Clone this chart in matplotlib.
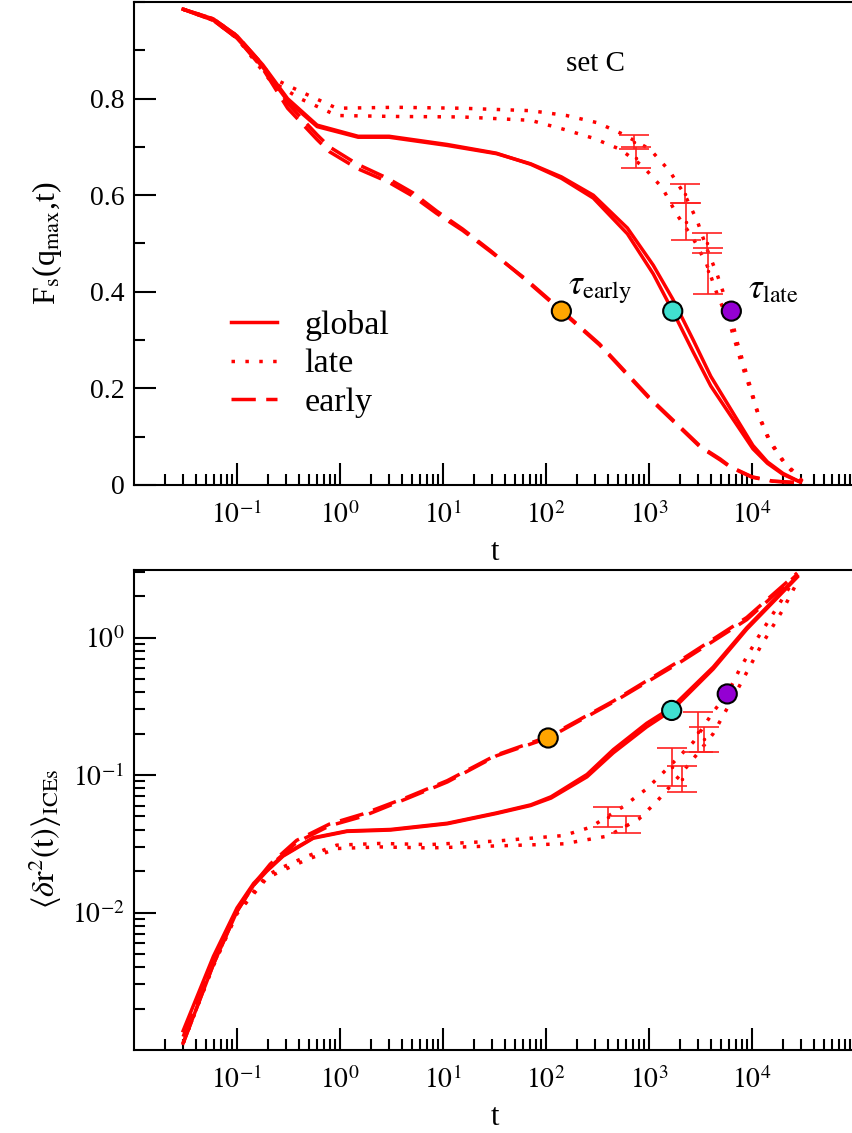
import numpy as np
import matplotlib as mpl
import matplotlib.pyplot as plt
from matplotlib.ticker import LogLocator, MultipleLocator, NullFormatter

plt.rcParams['font.family'] = ['Liberation Serif', 'DejaVu Serif']
plt.rcParams['mathtext.fontset'] = 'stix'

# ---------------- dados: painel de cima  F_s(q_max, t) ----------------
t_glob1 = [0.030, 0.059, 0.10, 0.178, 0.31, 0.60, 1.5, 3.0, 11, 33, 71, 141, 288, 617, 1100, 1700, 2690, 3980, 6600, 10200, 14100, 20000, 29500]
F_glob1 = [0.985, 0.965, 0.93, 0.87, 0.80, 0.745, 0.722, 0.722, 0.705, 0.687, 0.664, 0.635, 0.594, 0.52, 0.437, 0.36, 0.275, 0.205, 0.135, 0.075, 0.045, 0.022, 0.006]
F_glob2 = [0.985, 0.962, 0.925, 0.865, 0.795, 0.742, 0.72, 0.72, 0.703, 0.686, 0.665, 0.638, 0.60, 0.532, 0.455, 0.385, 0.30, 0.225, 0.148, 0.082, 0.048, 0.024, 0.006]

t_late1 = [0.030, 0.059, 0.10, 0.209, 0.41, 0.93, 3.5, 15.5, 71, 158, 316, 562, 1023, 1585, 2239, 2951, 3631, 4571, 6166, 7244, 9550, 11482, 14791, 20893, 26303, 33113]
F_late1 = [0.985, 0.965, 0.93, 0.845, 0.815, 0.78, 0.782, 0.78, 0.775, 0.765, 0.75, 0.726, 0.695, 0.65, 0.60, 0.546, 0.49, 0.437, 0.355, 0.293, 0.206, 0.148, 0.093, 0.045, 0.025, 0.0]
t_late2 = [0.030, 0.059, 0.10, 0.209, 0.41, 0.93, 3.5, 15.5, 71, 151, 288, 525, 871, 1349, 1862, 2692, 3631, 4571, 6166, 7943, 9550, 11482, 14791, 20893, 26303, 33113]
F_late2 = [0.985, 0.962, 0.925, 0.838, 0.80, 0.765, 0.763, 0.762, 0.755, 0.736, 0.718, 0.695, 0.66, 0.615, 0.56, 0.51, 0.457, 0.396, 0.33, 0.25, 0.20, 0.145, 0.09, 0.043, 0.022, 0.0]

t_early = [0.030, 0.059, 0.10, 0.178, 0.31, 0.60, 0.79, 1.48, 2.9, 5.1, 8.7, 15.5, 29, 63, 141, 331, 1000, 3162, 4898, 6166, 10000, 15849, 31623]
F_early1 = [0.985, 0.965, 0.93, 0.87, 0.79, 0.725, 0.70, 0.664, 0.635, 0.605, 0.567, 0.530, 0.485, 0.425, 0.36, 0.29, 0.18, 0.078, 0.052, 0.037, 0.016, 0.008, 0.004]
F_early2 = [0.985, 0.962, 0.925, 0.862, 0.78, 0.715, 0.69, 0.655, 0.628, 0.598, 0.562, 0.527, 0.483, 0.427, 0.362, 0.292, 0.182, 0.08, 0.054, 0.038, 0.017, 0.008, 0.004]

# barras de erro (late), dois conjuntos
tbarA_top = [720, 2240, 3630]
loA_top = [0.695, 0.584, 0.480]
hiA_top = [0.724, 0.623, 0.522]
tbarB_top = [740, 2290, 3700]
loB_top = [0.656, 0.507, 0.396]
hiB_top = [0.700, 0.584, 0.491]

# tempos caracteristicos
t_tau_top = [141, 1700, 6300]
F_tau_top = [0.36, 0.36, 0.36]
tau_colors = ['orange', 'turquoise', 'darkviolet']

# ---------------- dados: painel de baixo  <dr^2(t)> ----------------
t_glob_b = [0.030, 0.059, 0.10, 0.145, 0.195, 0.28, 0.55, 1.17, 3.1, 11, 33, 71, 112, 250, 450, 950, 1660, 4200, 8900, 27500]
m_glob1 = [0.00112, 0.0042, 0.0102, 0.0158, 0.020, 0.0257, 0.0347, 0.0389, 0.0398, 0.0442, 0.0525, 0.060, 0.068, 0.097, 0.145, 0.224, 0.295, 0.59, 1.15, 2.75]
m_glob2 = [0.00138, 0.0048, 0.0108, 0.0163, 0.0205, 0.026, 0.035, 0.0392, 0.0402, 0.0446, 0.053, 0.0607, 0.0695, 0.101, 0.153, 0.238, 0.31, 0.61, 1.18, 2.8]

t_early_b = [0.030, 0.059, 0.10, 0.145, 0.21, 0.38, 0.79, 1.66, 4.5, 11, 33, 105, 450, 2000, 8900, 27500]
m_early1 = [0.00112, 0.0042, 0.0102, 0.0158, 0.0219, 0.0324, 0.0427, 0.050, 0.0676, 0.089, 0.138, 0.186, 0.339, 0.66, 1.35, 2.88]
m_early2 = [0.00125, 0.0045, 0.0105, 0.016, 0.0225, 0.0335, 0.044, 0.052, 0.069, 0.091, 0.14, 0.19, 0.345, 0.68, 1.40, 2.95]

t_late_b1 = [0.030, 0.059, 0.10, 0.195, 0.26, 0.48, 0.93, 2.45, 7.4, 33, 148, 270, 560, 950, 1480, 2700, 4200, 5750, 7600, 11200, 18600, 27500]
m_late1 = [0.00112, 0.0042, 0.0100, 0.0186, 0.0209, 0.0257, 0.0309, 0.0318, 0.0312, 0.0331, 0.0363, 0.0417, 0.0589, 0.0794, 0.110, 0.174, 0.288, 0.389, 0.589, 0.977, 1.78, 2.88]
t_late_b2 = [0.030, 0.059, 0.10, 0.195, 0.26, 0.48, 0.93, 2.45, 7.4, 33, 148, 400, 800, 1200, 2000, 3000, 4200, 7000, 12000, 20000, 28000]
m_late2 = [0.00112, 0.0041, 0.0098, 0.0178, 0.0198, 0.0243, 0.0292, 0.0300, 0.0295, 0.0305, 0.0316, 0.036, 0.048, 0.0646, 0.100, 0.145, 0.20, 0.40, 0.85, 1.6, 2.6]

tbarA_bot = [400, 1660, 3020]
loA_bot = [0.0417, 0.0832, 0.148]
hiA_bot = [0.0589, 0.158, 0.288]
tbarB_bot = [600, 2090, 3390]
loB_bot = [0.038, 0.0759, 0.148]
hiB_bot = [0.0501, 0.117, 0.224]

t_tau_bot = [105, 1660, 5750]
m_tau_bot = [0.186, 0.295, 0.389]

xtick_vals = [1e-1, 1e0, 1e1, 1e2, 1e3, 1e4]
xtick_labels = ['$10^{-1}$', '$10^{0}$', '$10^{1}$', '$10^{2}$', '$10^{3}$', '$10^{4}$']

#####################################################################################################
# Gerando o gráfico
#####################################################################################################
W, H = 853, 1133
fig = plt.figure(figsize=(W / 100, H / 100), dpi=100)
ax1 = fig.add_axes([134 / W, 1 - 485 / H, 721 / W, 483 / H])
ax2 = fig.add_axes([134 / W, 1 - 1050 / H, 721 / W, 480 / H])

lw = 2.5
dot = (0, (1, 3))
dash = (0, (7, 3))


def estilo(ax):
    ax.set_xscale('log')
    ax.set_xlim(1e-2, 1e5)
    ax.set_xticks(xtick_vals)
    ax.set_xticklabels(xtick_labels)
    ax.xaxis.set_minor_locator(LogLocator(base=10, subs=np.arange(2, 10), numticks=20))
    ax.xaxis.set_minor_formatter(NullFormatter())
    ax.tick_params(which='both', direction='in', width=1.5, top=False, right=False)
    ax.tick_params(which='major', length=16, labelsize=20)
    ax.tick_params(which='minor', length=8)
    ax.tick_params(axis='x', which='major', pad=12)
    ax.tick_params(axis='y', which='major', pad=7)
    for s in ax.spines.values():
        s.set_linewidth(1.5)
    ax.set_xlabel('t', fontsize=22, labelpad=6)


def barras(ax, t, lo, hi, geo=False):
    lo = np.array(lo)
    hi = np.array(hi)
    c = np.sqrt(lo * hi) if geo else (lo + hi) / 2
    ax.errorbar(t, c, yerr=[c - lo, hi - c], fmt='.', ms=3, color='red',
                ecolor='#ff2020', elinewidth=1.2, capsize=11, capthick=1.2, zorder=3)


# painel de cima
estilo(ax1)
ax1.plot(t_glob1, F_glob1, color='red', lw=lw, label='global')
ax1.plot(t_glob1, F_glob2, color='red', lw=lw)
ax1.plot(t_late1, F_late1, color='red', lw=lw, ls=dot, label='late')
ax1.plot(t_late2, F_late2, color='red', lw=lw, ls=dot)
ax1.plot(t_early, F_early1, color='red', lw=lw, ls=dash, label='early')
ax1.plot(t_early, F_early2, color='red', lw=lw, ls=dash)
barras(ax1, tbarA_top, loA_top, hiA_top)
barras(ax1, tbarB_top, loB_top, hiB_top)
ax1.scatter(t_tau_top, F_tau_top, s=190, c=tau_colors, edgecolors='black', linewidths=1.5, zorder=5)

ax1.set_ylim(0, 1.0)
ax1.set_yticks([0, 0.2, 0.4, 0.6, 0.8])
ax1.set_yticklabels(['0', '0.2', '0.4', '0.6', '0.8'])
ax1.yaxis.set_minor_locator(MultipleLocator(0.1))
ax1.set_ylabel(r'F$_\mathrm{s}$(q$_\mathrm{max}$,t)', fontsize=23)
ax1.yaxis.set_label_coords(-0.097, 0.5)

ax1.text(162, 0.405, r'$\tau_\mathrm{early}$', fontsize=25, ha='left', va='center')
ax1.text(9100, 0.405, r'$\tau_\mathrm{late}$', fontsize=25, ha='left', va='center')
ax1.text(0.64, 0.872, 'set C', fontsize=21, ha='center', va='center', transform=ax1.transAxes)

leg = ax1.legend(loc='upper left', bbox_to_anchor=(0.135, 0.362), frameon=False, fontsize=24.5,
                 handlelength=1.35, handletextpad=0.8, labelspacing=0.22, borderpad=0, borderaxespad=0)

# painel de baixo
estilo(ax2)
ax2.set_yscale('log')
ax2.plot(t_glob_b, m_glob1, color='red', lw=lw)
ax2.plot(t_glob_b, m_glob2, color='red', lw=lw)
ax2.plot(t_late_b1, m_late1, color='red', lw=lw, ls=dot)
ax2.plot(t_late_b2, m_late2, color='red', lw=lw, ls=dot)
ax2.plot(t_early_b, m_early1, color='red', lw=lw, ls=dash)
ax2.plot(t_early_b, m_early2, color='red', lw=lw, ls=dash)
barras(ax2, tbarA_bot, loA_bot, hiA_bot, geo=True)
barras(ax2, tbarB_bot, loB_bot, hiB_bot, geo=True)
ax2.scatter(t_tau_bot, m_tau_bot, s=190, c=tau_colors, edgecolors='black', linewidths=1.5, zorder=5)

ax2.set_ylim(1e-3, 3.1)
ax2.set_yticks([1e-2, 1e-1, 1e0])
ax2.set_yticklabels(['$10^{-2}$', '$10^{-1}$', '$10^{0}$'])
ax2.yaxis.set_minor_locator(LogLocator(base=10, subs=np.arange(2, 10), numticks=20))
ax2.yaxis.set_minor_formatter(NullFormatter())
ax2.set_ylabel(r'$\langle\delta\mathrm{r}^2(\mathrm{t})\rangle_\mathrm{ICEs}$', fontsize=23)
ax2.yaxis.set_label_coords(-0.097, 0.44)

plt.savefig('out.png', dpi=100)
